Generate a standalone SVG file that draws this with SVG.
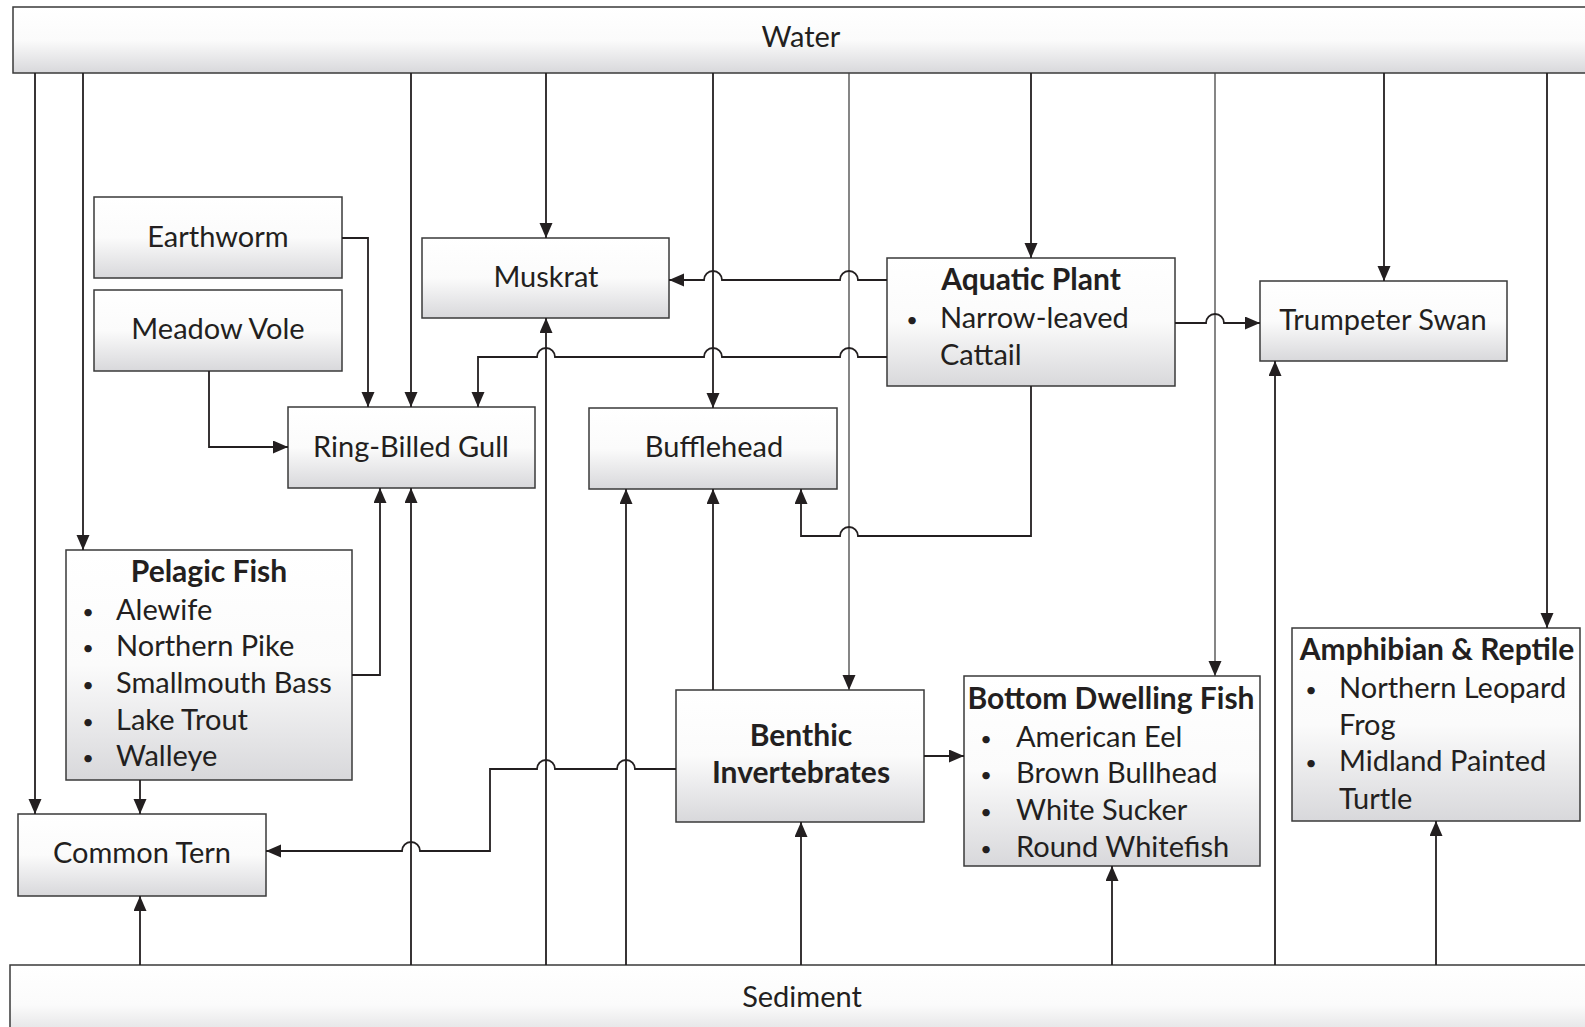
<svg xmlns="http://www.w3.org/2000/svg" width="1585" height="1027" viewBox="0 0 1585 1027">
<defs>
<linearGradient id="g" x1="0" y1="0" x2="0" y2="1">
<stop offset="0" stop-color="#ffffff"/>
<stop offset="0.5" stop-color="#fbfbfb"/>
<stop offset="1" stop-color="#d8d8db"/>
</linearGradient>
<marker id="ah" markerUnits="userSpaceOnUse" markerWidth="16" markerHeight="14" refX="15" refY="6.5" orient="auto">
<path d="M0,0 L15,6.5 L0,13 z" fill="#231f20"/>
</marker>
<style>
.box{fill:url(#g);stroke:#3a3a3a;stroke-width:1.5}
.t{font-family:Lato,"Open Sans",sans-serif;font-size:29px;fill:#231f20}
.c{text-anchor:middle}
.b{font-weight:bold;font-size:30px}
.bu{font-size:20px;text-anchor:middle}
.ln{fill:none;stroke:#231f20;stroke-width:1.8;marker-end:url(#ah)}
.thin{stroke:#444;stroke-width:1.3}
</style>
</defs>
<rect width="1585" height="1027" fill="#ffffff"/>

<g id="water"><rect class="box" x="13" y="7" width="1600" height="66"/><text class="t c" x="801" y="47">Water</text></g>
<g id="sediment"><rect class="box" x="10" y="965" width="1600" height="80"/><text class="t c" x="802" y="1007">Sediment</text></g>

<g id="earthworm"><rect class="box" x="94" y="197" width="248" height="81"/><text class="t c" x="218" y="247">Earthworm</text></g>
<g id="meadow-vole"><rect class="box" x="94" y="290" width="248" height="81"/><text class="t c" x="218" y="339">Meadow Vole</text></g>
<g id="muskrat"><rect class="box" x="422" y="238" width="247" height="80"/><text class="t c" x="546" y="287">Muskrat</text></g>
<g id="ring-billed-gull"><rect class="box" x="288" y="407" width="247" height="81"/><text class="t c" x="411" y="457">Ring-Billed Gull</text></g>
<g id="bufflehead"><rect class="box" x="589" y="408" width="248" height="81"/><text class="t c" x="714" y="457">Bufflehead</text></g>
<g id="aquatic-plant"><rect class="box" x="887" y="258" width="288" height="128"/>
<text class="t c b" x="1031" y="290">Aquatic Plant</text>
<text class="t bu" x="912" y="327">•</text><text class="t" x="940" y="328">Narrow-leaved</text>
<text class="t" x="940" y="365">Cattail</text></g>
<g id="trumpeter-swan"><rect class="box" x="1260" y="281" width="247" height="80"/><text class="t c" x="1383" y="330">Trumpeter Swan</text></g>
<g id="pelagic-fish"><rect class="box" x="66" y="550" width="286" height="230"/>
<text class="t c b" x="209" y="582">Pelagic Fish</text>
<text class="t bu" x="88" y="619">•</text><text class="t" x="116" y="620">Alewife</text>
<text class="t bu" x="88" y="655">•</text><text class="t" x="116" y="656">Northern Pike</text>
<text class="t bu" x="88" y="692">•</text><text class="t" x="116" y="693">Smallmouth Bass</text>
<text class="t bu" x="88" y="729">•</text><text class="t" x="116" y="730">Lake Trout</text>
<text class="t bu" x="88" y="765">•</text><text class="t" x="116" y="766">Walleye</text></g>
<g id="common-tern"><rect class="box" x="18" y="814" width="248" height="82"/><text class="t c" x="142" y="863">Common Tern</text></g>
<g id="benthic-invertebrates"><rect class="box" x="676" y="690" width="248" height="132"/>
<text class="t c b" x="801" y="746">Benthic</text><text class="t c b" x="801" y="783">Invertebrates</text></g>
<g id="bottom-dwelling-fish"><rect class="box" x="964" y="676" width="296" height="190"/>
<text class="t c b" x="1111" y="709">Bottom Dwelling Fish</text>
<text class="t bu" x="986" y="746">•</text><text class="t" x="1016" y="747">American Eel</text>
<text class="t bu" x="986" y="782">•</text><text class="t" x="1016" y="783">Brown Bullhead</text>
<text class="t bu" x="986" y="819">•</text><text class="t" x="1016" y="820">White Sucker</text>
<text class="t bu" x="986" y="856">•</text><text class="t" x="1016" y="857">Round Whitefish</text></g>
<g id="amphibian-reptile"><rect class="box" x="1292" y="628" width="288" height="193"/>
<text class="t c b" x="1437" y="660">Amphibian &amp; Reptile</text>
<text class="t bu" x="1311" y="697">•</text><text class="t" x="1339" y="698">Northern Leopard</text>
<text class="t" x="1339" y="735">Frog</text>
<text class="t bu" x="1311" y="770">•</text><text class="t" x="1339" y="771">Midland Painted</text>
<text class="t" x="1339" y="809">Turtle</text></g>

<g id="connectors">
<path class="ln" d="M35 73 V814"/>
<path class="ln" d="M83 73 V550"/>
<path class="ln" d="M411 73 V407"/>
<path class="ln" d="M546 73 V238"/>
<path class="ln" d="M713 73 V408"/>
<path class="ln thin" d="M849 73 V690"/>
<path class="ln" d="M1031 73 V258"/>
<path class="ln thin" d="M1215 73 V676"/>
<path class="ln" d="M1384 73 V281"/>
<path class="ln" d="M1547 73 V628"/>

<path class="ln" d="M140 965 V896"/>
<path class="ln" d="M411 965 V488"/>
<path class="ln" d="M546 965 V318"/>
<path class="ln" d="M626 965 V489"/>
<path class="ln" d="M801 965 V822"/>
<path class="ln" d="M1112 965 V866"/>
<path class="ln" d="M1275 965 V361"/>
<path class="ln" d="M1436 965 V821"/>

<path class="ln" d="M342 238 H368 V407"/>
<path class="ln" d="M209 371 V447 H288"/>
<path class="ln" d="M352 675 H380 V488"/>
<path class="ln" d="M140 780 V814"/>
<path class="ln" d="M887 280 H858 A9 9 0 0 0 840 280 H722 A9 9 0 0 0 704 280 H669"/>
<path class="ln" d="M887 357 H858 A9 9 0 0 0 840 357 H722 A9 9 0 0 0 704 357 H555 A9 9 0 0 0 537 357 H478 V407"/>
<path class="ln" d="M1175 323 H1206 A9 9 0 0 1 1224 323 H1260"/>
<path class="ln" d="M1031 386 V536 H858 A9 9 0 0 0 840 536 H801 V489"/>
<path class="ln" d="M713 690 V489"/>
<path class="ln" d="M924 756 H964"/>
<path class="ln" d="M676 769 H635 A9 9 0 0 0 617 769 H555 A9 9 0 0 0 537 769 H490 V851 H420 A9 9 0 0 0 402 851 H266"/>
</g>
</svg>
